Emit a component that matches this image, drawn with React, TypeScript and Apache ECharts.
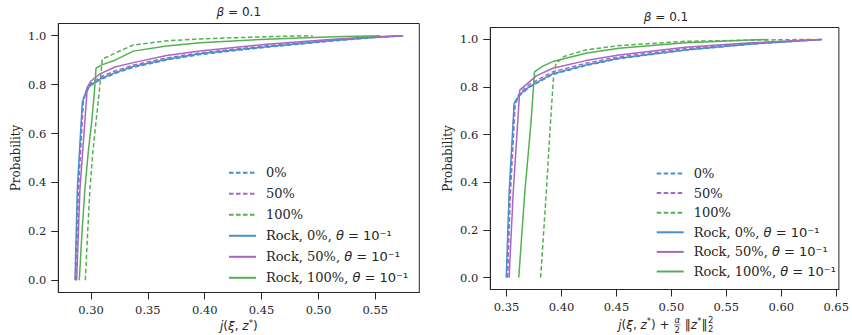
import React, { useEffect, useRef } from "react";
import * as echarts from "echarts";

// ---------- data ----------
const SERIES_NAMES = [
  "0%",
  "50%",
  "100%",
  "Rock, 0%, θ = 10⁻¹",
  "Rock, 50%, θ = 10⁻¹",
  "Rock, 100%, θ = 10⁻¹",
];

const leftTicks = [0.3, 0.35, 0.4, 0.45, 0.5, 0.55];
const rightTicks = [0.35, 0.4, 0.45, 0.5, 0.55, 0.6, 0.65];
const probTicks = [0, 0.2, 0.4, 0.6, 0.8, 1.0];

// left panel: j(xi, z*)
const lDash0X = [0.2865, 0.2886, 0.2928, 0.296, 0.3, 0.3079, 0.3211, 0.3372, 0.3665, 0.3958, 0.4544, 0.513, 0.545, 0.5745];
const lDash0P = [0, 0.376, 0.728, 0.772, 0.797, 0.82, 0.845, 0.871, 0.901, 0.923, 0.953, 0.979, 0.991, 1.0];
const lDash50X = [0.2868, 0.289, 0.2934, 0.2965, 0.3, 0.3079, 0.3211, 0.3372, 0.3665, 0.3958, 0.4544, 0.513, 0.545, 0.574];
const lDash50P = [0, 0.376, 0.74, 0.785, 0.806, 0.83, 0.856, 0.88, 0.909, 0.93, 0.959, 0.982, 0.993, 1.0];
const lDash100X = [0.295, 0.297, 0.2991, 0.3015, 0.3044, 0.3075, 0.3099, 0.315, 0.3225, 0.3372, 0.3665, 0.3958, 0.4544, 0.495];
const lDash100P = [0, 0.19, 0.376, 0.52, 0.649, 0.78, 0.905, 0.915, 0.932, 0.962, 0.979, 0.987, 0.996, 1.0];
const lRock0X = [0.2859, 0.288, 0.2924, 0.296, 0.3, 0.3079, 0.3211, 0.3372, 0.3665, 0.3958, 0.4544, 0.513, 0.545, 0.5745];
const lRock0P = [0, 0.376, 0.73, 0.776, 0.8, 0.823, 0.849, 0.874, 0.904, 0.926, 0.955, 0.98, 0.992, 1.0];
const lRock50X = [0.2874, 0.2903, 0.2968, 0.3, 0.3079, 0.3211, 0.3372, 0.3665, 0.3958, 0.4544, 0.513, 0.545, 0.573];
const lRock50P = [0, 0.376, 0.79, 0.815, 0.844, 0.872, 0.89, 0.919, 0.938, 0.965, 0.986, 0.995, 1.0];
const lRock100X = [0.2897, 0.292, 0.2947, 0.2975, 0.3006, 0.303, 0.3044, 0.31, 0.3211, 0.3372, 0.3665, 0.3958, 0.4544, 0.513, 0.554];
const lRock100P = [0, 0.19, 0.376, 0.52, 0.649, 0.77, 0.867, 0.882, 0.9, 0.937, 0.958, 0.971, 0.986, 0.996, 1.0];

// right panel: j(xi, z*) + alpha/2 ||z*||^2
const rDash0X = [0.3503, 0.3528, 0.3572, 0.362, 0.371, 0.3921, 0.4222, 0.4523, 0.5125, 0.5726, 0.6373];
const rDash0P = [0, 0.354, 0.725, 0.765, 0.8, 0.853, 0.89, 0.919, 0.955, 0.98, 1.0];
const rDash50X = [0.351, 0.3535, 0.358, 0.362, 0.371, 0.3921, 0.4222, 0.4523, 0.5125, 0.5726, 0.637];
const rDash50P = [0, 0.354, 0.74, 0.775, 0.812, 0.864, 0.9, 0.927, 0.961, 0.983, 1.0];
const rDash100X = [0.381, 0.3861, 0.3897, 0.393, 0.3951, 0.4021, 0.4222, 0.4523, 0.5125, 0.5726, 0.6267];
const rDash100P = [0, 0.354, 0.633, 0.86, 0.899, 0.928, 0.956, 0.974, 0.992, 0.997, 1.0];
const rRock0X = [0.3497, 0.3523, 0.3569, 0.362, 0.371, 0.3921, 0.4222, 0.4523, 0.5125, 0.5726, 0.6373];
const rRock0P = [0, 0.354, 0.731, 0.768, 0.803, 0.856, 0.893, 0.921, 0.956, 0.981, 1.0];
const rRock50X = [0.3523, 0.356, 0.362, 0.377, 0.3921, 0.4222, 0.4523, 0.5125, 0.5726, 0.6365];
const rRock50P = [0, 0.354, 0.787, 0.847, 0.879, 0.911, 0.935, 0.967, 0.986, 1.0];
const rRock100X = [0.3611, 0.3665, 0.3719, 0.3755, 0.383, 0.3921, 0.4222, 0.4523, 0.5125, 0.5726, 0.5877];
const rRock100P = [0, 0.354, 0.633, 0.864, 0.888, 0.907, 0.942, 0.963, 0.986, 0.997, 1.0];

// ---------- styles ----------
const BLUE = "#4a8fcb";
const PURPLE = "#a767c2";
const GREEN = "#55b053";
const COLORS = [BLUE, PURPLE, GREEN, BLUE, PURPLE, GREEN];
const SERIF = "'DejaVu Serif', serif";
const SANS = "'DejaVu Sans', sans-serif";
const INK = "#262626";

const zip = (xs: number[], ps: number[]) => xs.map((x, i) => [x, ps[i]]);

const leftData = [
  zip(lDash0X, lDash0P),
  zip(lDash50X, lDash50P),
  zip(lDash100X, lDash100P),
  zip(lRock0X, lRock0P),
  zip(lRock50X, lRock50P),
  zip(lRock100X, lRock100P),
];
const rightData = [
  zip(rDash0X, rDash0P),
  zip(rDash50X, rDash50P),
  zip(rDash100X, rDash100P),
  zip(rRock0X, rRock0P),
  zip(rRock50X, rRock50P),
  zip(rRock100X, rRock100P),
];

function makeSeries(data: number[][][], axisIndex: number) {
  return data.map((d, i) => ({
    type: "line",
    name: SERIES_NAMES[i],
    xAxisIndex: axisIndex,
    yAxisIndex: axisIndex,
    data: d,
    showSymbol: false,
    symbol: "none",
    smooth: false,
    color: COLORS[i],
    lineStyle: {
      color: COLORS[i],
      width: 1.5,
      type: i < 3 ? [4.5, 2.5] : "solid",
    },
    z: i < 3 ? 2 : 3,
  }));
}

function xAxis(gridIndex: number, min: number, max: number, ticks: number[]) {
  return {
    type: "value",
    gridIndex,
    min,
    max,
    splitLine: { show: false },
    axisLine: { show: true, onZero: false, lineStyle: { color: INK, width: 1 } },
    axisTick: { show: true, length: 7, customValues: ticks, lineStyle: { color: INK, width: 1 } },
    axisLabel: {
      customValues: ticks,
      formatter: (v: number) => v.toFixed(2),
      fontFamily: SERIF,
      fontSize: 11.5,
      color: INK,
      margin: 11,
    },
  };
}

function yAxis(gridIndex: number) {
  return {
    type: "value",
    gridIndex,
    min: -0.05,
    max: 1.05,
    splitLine: { show: false },
    axisLine: { show: true, onZero: false, lineStyle: { color: INK, width: 1 } },
    axisTick: { show: true, length: 7, customValues: probTicks, lineStyle: { color: INK, width: 1 } },
    axisLabel: {
      customValues: probTicks,
      formatter: (v: number) => v.toFixed(1),
      fontFamily: SERIF,
      fontSize: 11.5,
      color: INK,
      margin: 12,
    },
    name: "Probability",
    nameLocation: "middle",
    nameGap: 36,
    nameTextStyle: { fontFamily: SERIF, fontSize: 12, color: INK },
  };
}

const LEG_FS = 13;
const legendRich = {
  t: { fontFamily: SERIF, fontSize: LEG_FS, color: INK, lineHeight: 14 },
  m: { fontFamily: SANS, fontStyle: "italic", fontSize: LEG_FS, color: INK, lineHeight: 14 },
  e: { fontFamily: SANS, fontSize: LEG_FS, color: INK, lineHeight: 14 },
};

function legendFormatter(name: string) {
  if (name.startsWith("Rock")) {
    const idx = name.indexOf("θ");
    const pre = name.slice(0, idx);
    const post = name.slice(idx + 1);
    return `{t|${pre}}{m|θ}{e|${post}}`;
  }
  return `{t|${name}}`;
}

function legend(left: number, top: number, gap: number) {
  return {
    orient: "vertical",
    left,
    top,
    data: SERIES_NAMES,
    itemWidth: 27,
    itemHeight: 14,
    itemGap: gap,
    padding: 0,
    formatter: legendFormatter,
    itemStyle: { opacity: 0, color: "transparent", borderWidth: 0 },
    textStyle: { fontFamily: SERIF, fontSize: LEG_FS, color: INK, padding: [0, 0, 0, 5], rich: legendRich },
    selectedMode: false,
  };
}

// ---------- math-like axis label layout ----------
type Piece =
  | { t: string; it?: boolean; small?: boolean; dy?: number }
  | { frac: [string, string] }
  | { supsub: [string, string] };

const BASE = 12;
const SMALL = 8.5;

function fontOf(it: boolean | undefined, size: number) {
  return `${it ? "italic " : ""}${size}px 'DejaVu Sans'`;
}

let measureCtx: CanvasRenderingContext2D | null = null;
function measure(text: string, font: string) {
  if (!measureCtx) measureCtx = document.createElement("canvas").getContext("2d");
  if (!measureCtx) return text.length * 7;
  measureCtx.font = font;
  return measureCtx.measureText(text).width;
}

function mathLabel(pieces: Piece[], cx: number, cy: number) {
  const els: any[] = [];
  const widths = pieces.map((p: any) => {
    if (p.frac) return Math.max(measure(p.frac[0], fontOf(true, SMALL)), measure(p.frac[1], fontOf(false, SMALL))) + 2;
    if (p.supsub) return measure(p.supsub[0], fontOf(false, SMALL)) + 1;
    return measure(p.t, fontOf(p.it, p.small ? SMALL : BASE));
  });
  const total = widths.reduce((a, b) => a + b, 0);
  let x = cx - total / 2;
  pieces.forEach((p: any, i) => {
    const w = widths[i];
    if (p.frac) {
      els.push({ type: "text", x: x + w / 2, y: cy - 4.6, style: { text: p.frac[0], fontFamily: SANS, fontStyle: "italic", fontSize: SMALL, fill: INK, align: "center", verticalAlign: "middle" } });
      els.push({ type: "line", shape: { x1: x + 0.5, y1: cy + 0.3, x2: x + w - 0.5, y2: cy + 0.3 }, style: { stroke: INK, lineWidth: 0.6 } });
      els.push({ type: "text", x: x + w / 2, y: cy + 5.2, style: { text: p.frac[1], fontFamily: SANS, fontSize: SMALL, fill: INK, align: "center", verticalAlign: "middle" } });
    } else if (p.supsub) {
      els.push({ type: "text", x: x + 0.5, y: cy - 5, style: { text: p.supsub[0], fontFamily: SANS, fontSize: SMALL, fill: INK, align: "left", verticalAlign: "middle" } });
      els.push({ type: "text", x: x + 0.5, y: cy + 4.5, style: { text: p.supsub[1], fontFamily: SANS, fontSize: SMALL, fill: INK, align: "left", verticalAlign: "middle" } });
    } else {
      els.push({
        type: "text",
        x,
        y: cy + (p.dy || 0),
        style: {
          text: p.t,
          fontFamily: SANS,
          fontStyle: p.it ? "italic" : "normal",
          fontSize: p.small ? SMALL : BASE,
          fill: INK,
          align: "left",
          verticalAlign: "middle",
        },
      });
    }
    x += w;
  });
  return els;
}

const leftXLabel: Piece[] = [
  { t: "j", it: true },
  { t: "(" },
  { t: "ξ", it: true },
  { t: ", " },
  { t: "z", it: true },
  { t: "*", small: true, dy: -3.5 },
  { t: ")" },
];
const rightXLabel: Piece[] = [
  { t: "j", it: true },
  { t: "(" },
  { t: "ξ", it: true },
  { t: ", " },
  { t: "z", it: true },
  { t: "*", small: true, dy: -3.5 },
  { t: ") + " },
  { frac: ["α", "2"] },
  { t: " ‖" },
  { t: "z", it: true },
  { t: "*", small: true, dy: -3.5 },
  { t: "‖" },
  { supsub: ["2", "2"] },
];

export default function App() {
  const ref = useRef<HTMLDivElement>(null);
  useEffect(() => {
    if (!ref.current) return;
    const chart = echarts.init(ref.current, null, { renderer: "svg" });
    const titleStyle = {
      fontFamily: SANS,
      fontSize: 12,
      fontWeight: "normal",
      color: INK,
      rich: { i: { fontFamily: SANS, fontStyle: "italic", fontSize: 12, color: INK } },
    };
    const option = {
      animation: false,
      backgroundColor: "#ffffff",
      grid: [
        { left: 58.3, top: 23.5, width: 361, height: 269, show: true, borderColor: INK, borderWidth: 1, backgroundColor: "transparent" },
        { left: 490.3, top: 27.5, width: 351.4, height: 262, show: true, borderColor: INK, borderWidth: 1, backgroundColor: "transparent" },
      ],
      title: [
        { text: "{i|β} = 0.1", left: 238.8, top: 6.3, padding: 0, textAlign: "center", textStyle: titleStyle },
        { text: "{i|β} = 0.1", left: 666, top: 11.3, padding: 0, textAlign: "center", textStyle: titleStyle },
      ],
      xAxis: [xAxis(0, 0.27124, 0.58869, leftTicks), xAxis(1, 0.33519, 0.65244, rightTicks)],
      yAxis: [yAxis(0), yAxis(1)],
      legend: [legend(228, 166.3, 8), legend(655.7, 167, 6.6)],
      series: [...makeSeries(leftData, 0), ...makeSeries(rightData, 1)],
      graphic: [...mathLabel(leftXLabel, 238.8, 326), ...mathLabel(rightXLabel, 666, 324.5)],
    };
    chart.setOption(option as any);
    return () => chart.dispose();
  }, []);
  return (
    <div
      ref={ref}
      style={{ position: "fixed", left: 0, top: 0, width: 852, height: 335, background: "#fff" }}
    />
  );
}
